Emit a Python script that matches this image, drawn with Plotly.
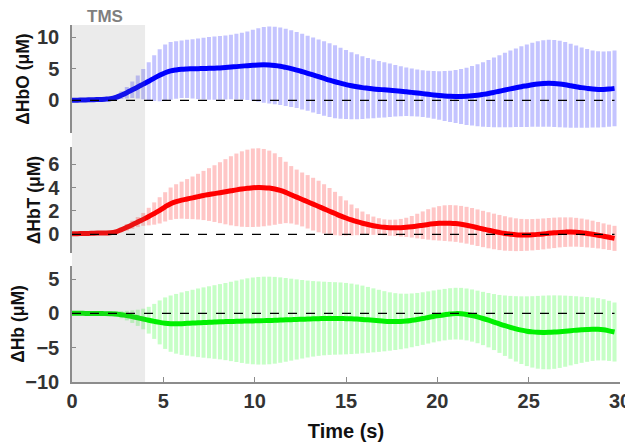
import plotly.graph_objects as go
from plotly.subplots import make_subplots

# ---- data ----
time = [round(0.3 * i, 1) for i in range(100)]

hbo_mean = [0.00, 0.02, 0.04, 0.07, 0.10, 0.13, 0.18, 0.25, 0.45, 0.80,
            1.20, 1.65, 2.10, 2.55, 3.00, 3.50, 3.95, 4.35, 4.65, 4.80,
            4.90, 4.95, 4.98, 5.00, 5.02, 5.05, 5.08, 5.12, 5.18, 5.25,
            5.32, 5.40, 5.47, 5.53, 5.58, 5.60, 5.58, 5.50, 5.38, 5.20,
            5.00, 4.78, 4.53, 4.27, 4.00, 3.72, 3.45, 3.18, 2.93, 2.70,
            2.48, 2.30, 2.14, 2.00, 1.90, 1.80, 1.72, 1.65, 1.58, 1.50,
            1.42, 1.35, 1.25, 1.15, 1.05, 0.95, 0.85, 0.76, 0.68, 0.62,
            0.60, 0.60, 0.63, 0.70, 0.80, 0.93, 1.08, 1.25, 1.43, 1.62,
            1.80, 1.98, 2.15, 2.30, 2.45, 2.57, 2.65, 2.68, 2.65, 2.57,
            2.45, 2.30, 2.15, 2.00, 1.88, 1.78, 1.72, 1.72, 1.78, 1.88]
hbo_sd = [0.30, 0.30, 0.30, 0.30, 0.30, 0.30, 0.30, 0.30, 0.40, 0.60,
          0.90, 1.30, 1.80, 2.40, 3.00, 3.60, 4.10, 4.45, 4.55, 4.55,
          4.55, 4.60, 4.68, 4.78, 4.88, 4.95, 5.00, 5.03, 5.06, 5.10,
          5.18, 5.28, 5.42, 5.60, 5.80, 5.98, 6.08, 6.12, 6.12, 6.10,
          6.06, 6.02, 5.98, 5.94, 5.92, 5.90, 5.88, 5.84, 5.76, 5.62,
          5.45, 5.28, 5.12, 4.96, 4.80, 4.65, 4.50, 4.36, 4.22, 4.08,
          3.95, 3.85, 3.77, 3.72, 3.70, 3.72, 3.76, 3.84, 3.94, 4.06,
          4.20, 4.35, 4.52, 4.70, 4.90, 5.10, 5.30, 5.50, 5.70, 5.88,
          6.05, 6.22, 6.38, 6.52, 6.65, 6.76, 6.84, 6.88, 6.88, 6.84,
          6.76, 6.64, 6.50, 6.36, 6.22, 6.10, 6.02, 5.98, 5.98, 6.00]

hbt_mean = [0.05, 0.06, 0.07, 0.08, 0.10, 0.11, 0.12, 0.14, 0.22, 0.40,
            0.60, 0.82, 1.05, 1.28, 1.52, 1.78, 2.05, 2.35, 2.62, 2.80,
            2.92, 3.02, 3.12, 3.22, 3.32, 3.40, 3.48, 3.56, 3.64, 3.72,
            3.80, 3.87, 3.93, 3.98, 4.00, 3.99, 3.95, 3.87, 3.75, 3.58,
            3.38, 3.18, 2.98, 2.78, 2.58, 2.38, 2.18, 1.98, 1.78, 1.58,
            1.40, 1.23, 1.08, 0.95, 0.84, 0.74, 0.66, 0.60, 0.57, 0.56,
            0.57, 0.60, 0.65, 0.71, 0.78, 0.85, 0.90, 0.94, 0.96, 0.95,
            0.92, 0.86, 0.78, 0.68, 0.57, 0.46, 0.35, 0.25, 0.16, 0.08,
            0.02, -0.03, -0.05, -0.05, -0.03, 0.00, 0.04, 0.09, 0.13, 0.17,
            0.19, 0.20, 0.18, 0.14, 0.08, 0.01, -0.07, -0.16, -0.25, -0.34]
hbt_sd = [0.15, 0.15, 0.15, 0.15, 0.15, 0.15, 0.15, 0.15, 0.18, 0.22,
          0.28, 0.35, 0.43, 0.55, 0.75, 0.95, 1.12, 1.25, 1.38, 1.48,
          1.58, 1.70, 1.82, 1.95, 2.10, 2.25, 2.42, 2.60, 2.78, 2.95,
          3.10, 3.22, 3.30, 3.35, 3.35, 3.30, 3.20, 3.05, 2.85, 2.62,
          2.45, 2.35, 2.30, 2.28, 2.25, 2.20, 2.10, 1.98, 1.85, 1.68,
          1.50, 1.32, 1.15, 1.00, 0.88, 0.78, 0.72, 0.68, 0.68, 0.70,
          0.75, 0.82, 0.92, 1.05, 1.18, 1.30, 1.40, 1.47, 1.52, 1.55,
          1.56, 1.57, 1.57, 1.57, 1.56, 1.55, 1.54, 1.52, 1.50, 1.47,
          1.43, 1.40, 1.37, 1.35, 1.34, 1.33, 1.32, 1.31, 1.30, 1.28,
          1.26, 1.25, 1.23, 1.21, 1.19, 1.16, 1.13, 1.10, 1.08, 1.07]

hb_mean = [0.00, 0.00, 0.00, -0.01, -0.02, -0.03, -0.04, -0.06, -0.10, -0.20,
           -0.33, -0.48, -0.65, -0.82, -1.00, -1.17, -1.32, -1.43, -1.50, -1.52,
           -1.50, -1.46, -1.42, -1.38, -1.34, -1.30, -1.26, -1.22, -1.20, -1.18,
           -1.16, -1.14, -1.12, -1.10, -1.08, -1.06, -1.04, -1.01, -0.98, -0.95,
           -0.92, -0.89, -0.86, -0.83, -0.80, -0.77, -0.75, -0.74, -0.74, -0.75,
           -0.77, -0.80, -0.84, -0.89, -0.95, -1.02, -1.09, -1.15, -1.19, -1.20,
           -1.18, -1.12, -1.02, -0.90, -0.76, -0.60, -0.45, -0.31, -0.19, -0.09,
           -0.04, -0.06, -0.16, -0.32, -0.52, -0.75, -1.00, -1.27, -1.54, -1.80,
           -2.04, -2.26, -2.45, -2.60, -2.70, -2.76, -2.78, -2.77, -2.73, -2.67,
           -2.60, -2.52, -2.45, -2.39, -2.34, -2.31, -2.32, -2.40, -2.55, -2.72]
hb_sd = [0.30, 0.30, 0.30, 0.30, 0.30, 0.30, 0.30, 0.30, 0.38, 0.52,
         0.70, 0.92, 1.18, 1.50, 1.95, 2.55, 3.20, 3.75, 4.10, 4.35,
         4.55, 4.70, 4.85, 5.00, 5.12, 5.24, 5.36, 5.48, 5.62, 5.78,
         5.93, 6.08, 6.22, 6.32, 6.38, 6.40, 6.38, 6.32, 6.22, 6.10,
         5.97, 5.84, 5.72, 5.60, 5.50, 5.42, 5.36, 5.31, 5.28, 5.25,
         5.20, 5.13, 5.04, 4.93, 4.80, 4.66, 4.52, 4.38, 4.25, 4.14,
         4.05, 3.98, 3.92, 3.87, 3.83, 3.80, 3.78, 3.76, 3.75, 3.75,
         3.76, 3.77, 3.78, 3.80, 3.83, 3.88, 3.96, 4.08, 4.22, 4.40,
         4.58, 4.76, 4.93, 5.08, 5.20, 5.30, 5.36, 5.38, 5.35, 5.28,
         5.18, 5.06, 4.94, 4.82, 4.72, 4.62, 4.54, 4.46, 4.38, 4.30]

panel_titles = ["ΔHbO (μM)", "ΔHbT (μM)", "ΔHb (μM)"]
line_colors = ["#0000ff", "#ff0000", "#00f000"]
bar_colors = ["#c4c4ff", "#ffc6c6", "#c6ffc6"]
y_ticks = [[0, 5, 10], [0, 2, 4, 6], [-10, -5, 0, 5]]
y_ranges = [[-5.2, 11.9], [-1.6, 7.45], [-10, 6.9]]
x_range = [0, 30]
x_ticks = [0, 5, 10, 15, 20, 25, 30]
stim_window = [0, 4]
stim_label = "TMS"

series = [(hbo_mean, hbo_sd), (hbt_mean, hbt_sd), (hb_mean, hb_sd)]

# ---- figure ----
fig = make_subplots(rows=3, cols=1, shared_xaxes=True)
FONT = "Liberation Sans, Arial, sans-serif"
TICKC = "#333333"
AXC = "#8c8c8c"

for k, (m, s) in enumerate(series):
    row = k + 1
    fig.add_trace(go.Bar(x=time, y=[2 * v for v in s],
                         base=[a - b for a, b in zip(m, s)],
                         width=0.22, marker=dict(color=bar_colors[k], line=dict(width=0)),
                         showlegend=False, hoverinfo="skip"), row=row, col=1)
    fig.add_trace(go.Scatter(x=time, y=m, mode="lines",
                             line=dict(color=line_colors[k], width=5, shape="spline"),
                             showlegend=False), row=row, col=1)

domains = [[0.697, 1.0], [0.361, 0.658], [0.0, 0.325]]
yaxis_names = ["yaxis", "yaxis2", "yaxis3"]
xaxis_names = ["xaxis", "xaxis2", "xaxis3"]
for k in range(3):
    fig.layout[yaxis_names[k]].update(
        domain=domains[k], range=y_ranges[k], tickvals=y_ticks[k], automargin=False,
        showgrid=False, zeroline=False, showline=True, linecolor=AXC, linewidth=1.5,
        ticks="inside", ticklen=4, tickcolor=AXC, tickwidth=1.2,
        ticklabelstandoff=7,
        tickfont=dict(family=FONT, size=20, color=TICKC, weight="bold"),
        title=dict(text=panel_titles[k], standoff=3,
                   font=dict(family=FONT, size=17.5, color="#111111", weight="bold")),
    )
    fig.layout[xaxis_names[k]].update(range=x_range, showgrid=False, zeroline=False,
                                      automargin=False)

for k in range(2):
    fig.layout[xaxis_names[k]].update(showline=False, showticklabels=False, ticks="")

fig.layout["xaxis3"].update(
    showline=True, linecolor=AXC, linewidth=1.5, tickvals=x_ticks,
    ticks="inside", ticklen=5, tickcolor=AXC, tickwidth=1.2,
    tickfont=dict(family=FONT, size=20, color=TICKC, weight="bold"),
    title=dict(text="Time (s)", standoff=13,
               font=dict(family=FONT, size=20, color="#111111", weight="bold")),
)

# stimulation window: a translucent grey band over all three panels,
# so the error bars inside the window stay visible through it
fig.add_shape(type="rect", xref="x3", yref="paper",
              x0=stim_window[0], x1=stim_window[1], y0=0, y1=1,
              fillcolor="rgba(120,120,120,0.15)", line=dict(width=0), layer="above")

fig.add_annotation(xref="x3", yref="paper", x=(stim_window[0] + stim_window[1]) / 2 - 0.2,
                   y=1.0, yanchor="bottom", yshift=-3, showarrow=False, text=stim_label,
                   font=dict(family=FONT, size=17, color="#7f7f7f", weight="bold"))

# zero reference lines
for k in range(3):
    fig.add_shape(type="line", xref=xaxis_names[k].replace("axis", ""),
                  yref=yaxis_names[k].replace("axis", ""),
                  x0=time[0], x1=time[-1], y0=0, y1=0,
                  line=dict(color="black", width=1.2, dash="dash"), layer="above")

# the page places the figure 8px in from the top-left corner
fig.update_layout(
    width=625, height=439, barmode="overlay",
    margin=dict(l=64, r=13, t=17, b=65, autoexpand=False),
    plot_bgcolor="white", paper_bgcolor="white",
)

fig.write_html("out.html")
